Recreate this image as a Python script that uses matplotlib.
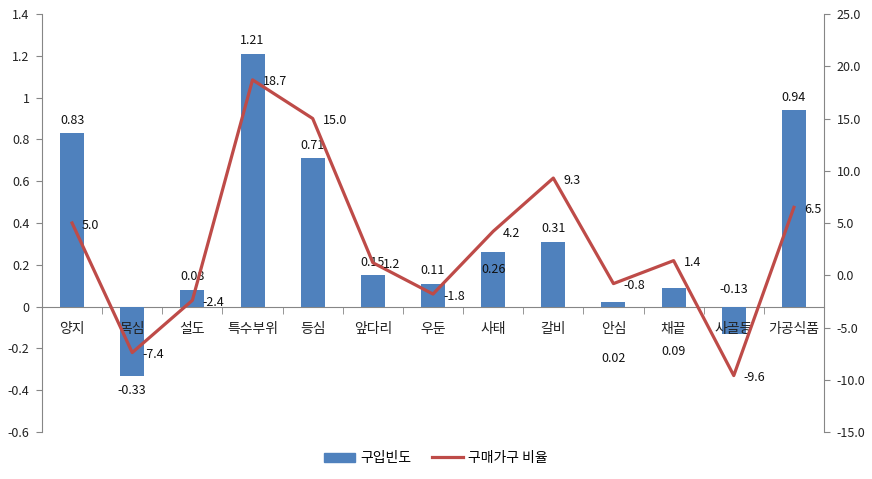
import matplotlib
matplotlib.use("Agg")
import matplotlib.pyplot as plt
from matplotlib.ticker import FixedLocator, FuncFormatter
from matplotlib.lines import Line2D
from matplotlib.patches import Patch

plt.rcParams['font.family'] = ['Noto Sans CJK KR', 'DejaVu Sans']
plt.rcParams['axes.unicode_minus'] = False

categories = ['양지', '목심', '설도', '특수부위', '등심', '앞다리', '우둔', '사태', '갈비', '안심', '채끝', '사골등', '가공식품']
purchase_freq = [0.83, -0.33, 0.08, 1.21, 0.71, 0.15, 0.11, 0.26, 0.31, 0.02, 0.09, -0.13, 0.94]
household_ratio = [5.0, -7.4, -2.4, 18.7, 15.0, 1.2, -1.8, 4.2, 9.3, -0.8, 1.4, -9.6, 6.5]
series_names = ['구입빈도', '구매가구 비율']

bar_color = '#4F81BD'
line_color = '#BE4B48'
axis_color = '#868686'

fig = plt.figure(figsize=(8.72, 4.79), dpi=100)
ax = fig.add_axes([42/872, 1-432/479, (824-42)/872, (432-14)/479])
ax2 = ax.twinx()

x = list(range(len(categories)))
ax.bar(x, purchase_freq, width=0.4, color=bar_color, zorder=2)
ax2.plot(x, household_ratio, color=line_color, lw=2.3, zorder=3)

ax.set_xlim(-0.5, len(categories) - 0.5)
ax.set_ylim(-0.6, 1.4)
ax2.set_ylim(-15, 25)

ax.yaxis.set_major_locator(FixedLocator([-0.6 + 0.2*i for i in range(11)]))
ax.yaxis.set_major_formatter(FuncFormatter(lambda v, p: f'{round(v, 1):g}'))
ax2.yaxis.set_major_locator(FixedLocator([-15 + 5*i for i in range(9)]))
ax2.yaxis.set_major_formatter(FuncFormatter(lambda v, p: f'{v:.1f}'))

for a in (ax, ax2):
    a.spines['top'].set_visible(False)
    a.spines['bottom'].set_visible(False)
ax.spines['right'].set_visible(False)
ax2.spines['left'].set_visible(False)
ax.spines['left'].set_color(axis_color)
ax2.spines['right'].set_color(axis_color)

ax.tick_params(axis='y', direction='out', length=4, color=axis_color, labelsize=9, pad=5, labelcolor='#222222')
ax2.tick_params(axis='y', direction='out', length=4, color=axis_color, labelsize=9, pad=5, labelcolor='#222222')

# category axis at zero
ax.set_axisbelow(False)
ax.spines['bottom'].set_visible(True)
ax.spines['bottom'].set_position(('data', 0))
ax.spines['bottom'].set_color(axis_color)
ax.spines['bottom'].set_zorder(1)
ax.set_xticks(x)
ax.set_xticklabels(categories)
ax.set_xticks([i + 0.5 for i in range(-1, len(categories))], minor=True)
ax.tick_params(axis='x', which='major', length=0, labelsize=10, pad=11, labelcolor='#222222')
ax.tick_params(axis='x', which='minor', length=5, direction='out', color=axis_color)

# bar data labels
bar_special = {7: (0, -17), 9: (0, -56), 10: (0, -64), 11: (0, 44)}
for i, v in enumerate(purchase_freq):
    if i in bar_special:
        dx, dy = bar_special[i]
    else:
        dx, dy = (0, 13) if v >= 0 else (0, -15)
    ax.annotate(f'{v:.2f}', (i, v), xytext=(dx, dy), textcoords='offset pixels',
                ha='center', va='center', fontsize=9, color='#111111', zorder=5)

# line data labels
for i, v in enumerate(household_ratio):
    ax2.annotate(f'{v:.1f}', (i, v), xytext=(10, -2), textcoords='offset pixels',
                 ha='left', va='center', fontsize=9, color='#111111', zorder=5)

handles = [Patch(color=bar_color), Line2D([0], [0], color=line_color, lw=2.3)]
fig.legend(handles, series_names, loc='center', bbox_to_anchor=(0.5, 1-458/479), ncol=2,
           frameon=False, fontsize=10, handlelength=2.2, handleheight=0.6, columnspacing=1.5,
           handletextpad=0.4)

fig.savefig('out.png', dpi=100)
